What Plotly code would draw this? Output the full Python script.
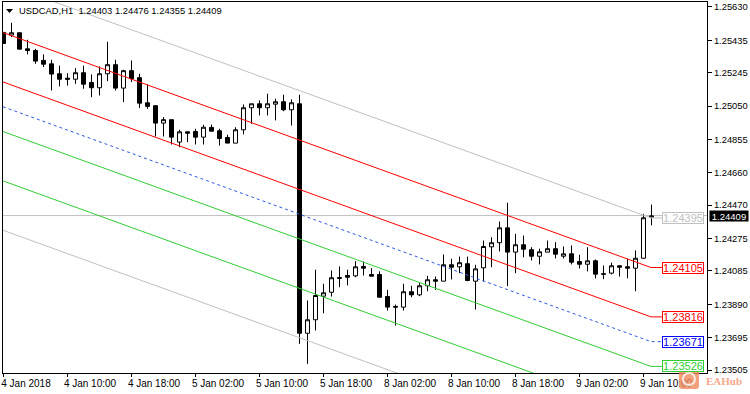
import plotly.graph_objects as go

symbol_header = "USDCAD,H1  1.24403 1.24476 1.24355 1.24409"

bar_index = list(range(82))
opens = [1.25484,1.25468,1.25482,1.25388,1.25378,1.25320,1.25300,1.25242,1.25216,1.25210,1.25248,1.25191,1.25160,1.25242,1.25295,1.25158,1.25260,1.25219,1.25072,1.25055,
 1.24953,1.24973,1.24842,1.24902,1.24904,1.24871,1.24928,1.24908,1.24869,1.24836,1.24914,1.25043,1.25066,1.25043,1.25064,1.25078,1.25031,1.25066,1.23723,1.23802,
 1.23940,1.23963,1.24049,1.24061,1.24059,1.24114,1.24067,1.24067,1.23938,1.23880,1.23876,1.23966,1.23948,1.24001,1.24036,1.24028,1.24124,1.24112,1.24130,1.24028,
 1.24106,1.24229,1.24253,1.24340,1.24198,1.24241,1.24212,1.24174,1.24198,1.24218,1.24174,1.24188,1.24143,1.24127,1.24147,1.24071,1.24075,1.24118,1.24112,1.24104,
 1.24162,1.24403]
highs = [1.25484,1.25540,1.25482,1.25441,1.25388,1.25355,1.25324,1.25289,1.25245,1.25275,1.25289,1.25238,1.25285,1.25429,1.25324,1.25265,1.25320,1.25242,1.25179,1.25056,
 1.24988,1.24973,1.24914,1.24904,1.24920,1.24943,1.24945,1.24920,1.24885,1.24929,1.25062,1.25066,1.25086,1.25125,1.25096,1.25119,1.25092,1.25119,1.23915,1.24095,
 1.24013,1.24090,1.24114,1.24095,1.24145,1.24143,1.24104,1.24086,1.23977,1.23891,1.24013,1.24001,1.24016,1.24059,1.24055,1.24184,1.24159,1.24172,1.24172,1.24124,
 1.24266,1.24285,1.24377,1.24487,1.24305,1.24295,1.24227,1.24218,1.24266,1.24256,1.24231,1.24237,1.24182,1.24227,1.24155,1.24120,1.24136,1.24121,1.24159,1.24208,
 1.24422,1.24476]
lows = [1.25419,1.25456,1.25386,1.25355,1.25300,1.25281,1.25144,1.25168,1.25173,1.25183,1.25154,1.25105,1.25115,1.25199,1.25144,1.25076,1.25193,1.25041,1.25037,1.24875,
 1.24875,1.24828,1.24812,1.24842,1.24828,1.24828,1.24904,1.24822,1.24836,1.24836,1.24887,1.24949,1.24998,1.24998,1.24969,1.25023,1.24939,1.23661,1.23544,1.23739,
 1.23840,1.23938,1.23993,1.24003,1.24051,1.24061,1.24057,1.23934,1.23856,1.23768,1.23856,1.23934,1.23940,1.23969,1.23977,1.24028,1.24038,1.24075,1.24028,1.23862,
 1.24026,1.24110,1.24202,1.23999,1.24075,1.24168,1.24149,1.24126,1.24198,1.24161,1.24161,1.24126,1.24102,1.24085,1.24044,1.24040,1.24067,1.24055,1.24045,1.23969,
 1.24159,1.24355]
closes = [1.25419,1.25482,1.25386,1.25378,1.25316,1.25298,1.25240,1.25210,1.25210,1.25248,1.25181,1.25160,1.25242,1.25295,1.25158,1.25260,1.25213,1.25070,1.25051,1.24953,
 1.24973,1.24871,1.24902,1.24894,1.24871,1.24929,1.24906,1.24863,1.24836,1.24914,1.25043,1.25066,1.25043,1.25066,1.25078,1.25031,1.25072,1.23723,1.23802,1.23944,
 1.23960,1.24048,1.24045,1.24051,1.24112,1.24104,1.24057,1.23934,1.23876,1.23876,1.23966,1.23948,1.24001,1.24036,1.24028,1.24124,1.24110,1.24136,1.24032,1.24100,
 1.24231,1.24253,1.24340,1.24198,1.24241,1.24215,1.24174,1.24200,1.24218,1.24186,1.24188,1.24139,1.24127,1.24147,1.24069,1.24069,1.24118,1.24110,1.24104,1.24162,
 1.24399,1.24409]

channel_x = [0, 81, 82.4]
gray_upper = [1.25769, 1.24395, 1.24395]
red_upper = [1.25480, 1.24105, 1.24105]
red_lower = [1.25191, 1.23816, 1.23816]
blue_mid = [1.25046, 1.23671, 1.23671]
green_upper = [1.24901, 1.23526, 1.23526]
green_lower = [1.24612, 1.23237, 1.23237]
gray_lower = [1.24323, 1.22948, 1.22948]
last_price = 1.24409

y_ticks = [1.25630,1.25435,1.25245,1.25050,1.24855,1.24660,1.24470,1.24275,1.24085,1.23890,1.23695,1.23505]
x_ticks = [0,8,16,24,32,40,48,56,64,72,80]
x_labels = ["4 Jan 2018","4 Jan 10:00","4 Jan 18:00","5 Jan 02:00","5 Jan 10:00","5 Jan 18:00",
            "8 Jan 02:00","8 Jan 10:00","8 Jan 18:00","9 Jan 02:00","9 Jan 10:00"]

W, H = 750, 394
FONT = "Liberation Sans"
FS = 10
PX = lambda x: (x - 3) / 704
PY = lambda y: (373 - y) / 371

fig = go.Figure()
GRAY, RED, GREEN = "#C0C0C0", "#FF0000", "#32CD32"
BLUE_LINE = "#2F5BE0"
for vals, col, dash in [(gray_upper, GRAY, "solid"), (red_upper, RED, "solid"), (red_lower, RED, "solid"),
                        (blue_mid, BLUE_LINE, "3px,3px"), (green_upper, GREEN, "solid"),
                        (green_lower, GREEN, "solid"), (gray_lower, GRAY, "solid")]:
    fig.add_trace(go.Scatter(x=channel_x, y=vals, mode="lines", line=dict(color=col, width=1, dash=dash),
                             hoverinfo="skip", showlegend=False))

fig.add_trace(go.Candlestick(
    x=bar_index, open=opens, high=highs, low=lows, close=closes, whiskerwidth=0,
    increasing=dict(fillcolor="#FFFFFF", line=dict(color="#000000", width=1)),
    decreasing=dict(fillcolor="#000000", line=dict(color="#000000", width=1)),
    showlegend=False))

fig.add_shape(type="line", xref="paper", x0=0, x1=1, yref="y", y0=last_price, y1=last_price,
              line=dict(color=GRAY, width=1), layer="below")

for val, col, bcol in [(gray_upper[-1], GRAY, GRAY), (red_upper[-1], RED, RED), (red_lower[-1], RED, RED),
                       (blue_mid[-1], "#0000FF", "#0000FF"), (green_upper[-1], GREEN, GREEN)]:
    fig.add_annotation(x=channel_x[-1], y=val, xref="x", yref="y", text=f"{val:.5f}", showarrow=False,
                       xanchor="left", yanchor="middle", width=40, height=10, align="center",
                       bgcolor="#FFFFFF", bordercolor=bcol, borderwidth=1, borderpad=0,
                       font=dict(family=FONT, size=FS + 1, color=col))

fig.add_annotation(x=1, y=last_price, xref="paper", yref="y", text=f"{last_price:.5f}", showarrow=False,
                   xanchor="left", yanchor="middle", xshift=2, width=38, height=10, align="center",
                   bgcolor="#000000", borderpad=0, font=dict(family=FONT, size=9.5, color="#FFFFFF"))

fig.add_annotation(x=PX(17), y=PY(10), xref="paper", yref="paper", text=symbol_header, showarrow=False,
                   xanchor="left", yanchor="middle", font=dict(family=FONT, size=9.4, color="#000000"))

# menu triangle
fig.add_shape(type="path", xref="paper", yref="paper",
              path=f"M {PX(6)} {PY(9)} L {PX(13)} {PY(9)} L {PX(9.5)} {PY(13)} Z",
              fillcolor="#000000", line=dict(width=0))

# watermark
x0, x1, y0, y1, r = PX(679), PX(699), PY(389), PY(369), 3
rx, ry = r / 704, r / 371
fig.add_shape(type="path", xref="paper", yref="paper", layer="above", opacity=0.8,
              path=(f"M {x0+rx} {y0} L {x1-rx} {y0} Q {x1} {y0} {x1} {y0+ry} L {x1} {y1-ry} Q {x1} {y1} {x1-rx} {y1} "
                    f"L {x0+rx} {y1} Q {x0} {y1} {x0} {y1-ry} L {x0} {y0+ry} Q {x0} {y0} {x0+rx} {y0} Z"),
              fillcolor="#F08A5D", line=dict(width=0))
fig.add_shape(type="circle", xref="paper", yref="paper", layer="above", opacity=0.8,
              x0=PX(683), x1=PX(695), y0=PY(385), y1=PY(373), fillcolor="rgba(0,0,0,0)", line=dict(color="#FFFFFF", width=2))
fig.add_annotation(x=PX(704), y=PY(381), xref="paper", yref="paper", text="<b>EAHub</b>", showarrow=False,
                   xanchor="left", yanchor="middle", font=dict(family="Liberation Serif", size=11, color="#F4A98A"))

fig.update_layout(
    width=W, height=H, paper_bgcolor="#FFFFFF", plot_bgcolor="#FFFFFF",
    margin=dict(l=3, r=43, t=2, b=21, autoexpand=False), showlegend=False, boxgap=0.5, boxgroupgap=0,
    font=dict(family=FONT, size=FS, color="#000000"),
    xaxis=dict(range=[0, 88], showgrid=False, zeroline=False, rangeslider=dict(visible=False), automargin=False,
               tickmode="array", tickvals=x_ticks, ticktext=x_labels, tickangle=0,
               ticks="outside", ticklen=3, tickcolor="#000000", tickwidth=1, ticklabelshift=23, ticklabelstandoff=-2,
               showline=True, linecolor="#000000", linewidth=1, mirror=True),
    yaxis=dict(range=[1.234875, 1.25659], side="right", showgrid=False, zeroline=False, automargin=False,
               tickmode="array", tickvals=y_ticks, ticktext=[f"{v:.5f}" for v in y_ticks], tickfont=dict(size=9.4),
               ticks="outside", ticklen=4, tickcolor="#000000", tickwidth=1,
               showline=True, linecolor="#000000", linewidth=1, mirror=True),
)

fig.write_html("out.html", config={"displayModeBar": False},
               post_script="document.body.style.margin='0';document.documentElement.style.overflow='hidden';"
                           "document.querySelectorAll('g.boxlayer path').forEach(function(p){p.setAttribute('transform','translate(0.5,0.5)');});")
